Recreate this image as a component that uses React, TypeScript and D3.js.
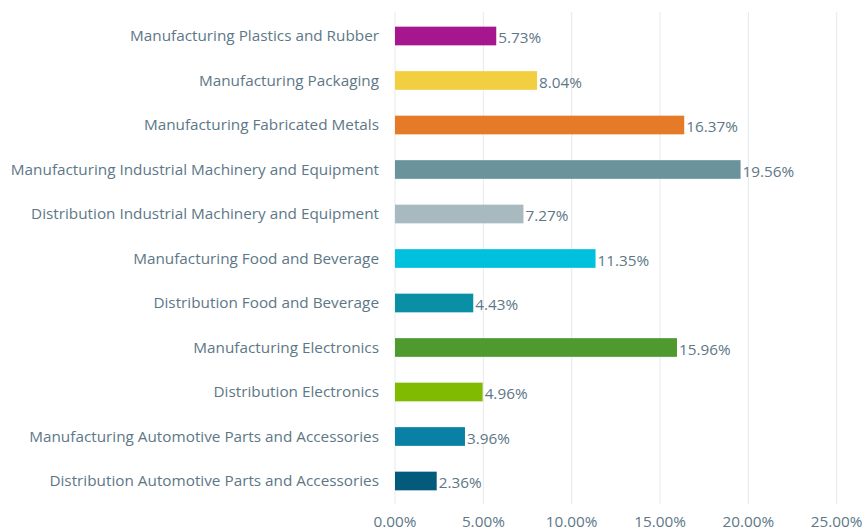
import React from "react";
import * as d3 from "d3";

const categories = [
  "Manufacturing Plastics and Rubber",
  "Manufacturing Packaging",
  "Manufacturing Fabricated Metals",
  "Manufacturing Industrial Machinery and Equipment",
  "Distribution Industrial Machinery and Equipment",
  "Manufacturing Food and Beverage",
  "Distribution Food and Beverage",
  "Manufacturing Electronics",
  "Distribution Electronics",
  "Manufacturing Automotive Parts and Accessories",
  "Distribution Automotive Parts and Accessories",
];
const values = [5.73, 8.04, 16.37, 19.56, 7.27, 11.35, 4.43, 15.96, 4.96, 3.96, 2.36];
const colors = [
  "#a5168f", "#f1cf40", "#e57a29", "#6b939b", "#a8b9bf", "#00c1dd",
  "#0a8fa4", "#4f9a2f", "#80ba01", "#0a80a4", "#045a7a",
];
const ticks = [0, 5, 10, 15, 20, 25];

const W = 863, H = 531;
const x0 = 395, x1 = 836.7;
const yTop = 13.75, yBot = 503.25;

export default function App() {
  const x = d3.scaleLinear().domain([0, 25]).range([x0, x1]);
  const y = d3.scaleBand().domain(categories).range([yTop, yBot]).paddingInner(0.58).paddingOuter(0.29);
  const textColor = "#5d7787";
  const font = "'Open Sans', sans-serif";
  const fs = 15.3;
  return (
    <svg width={W} height={H} style={{ position: "absolute", left: 0, top: 0, background: "#fff" }}>
      {ticks.map((t) => (
        <g key={t}>
          <line x1={x(t)} x2={x(t)} y1={12} y2={504} stroke="#e6e9ec" strokeWidth={1} />
          <text x={x(t)} y={527} textAnchor="middle" fill={textColor} fontFamily={font} fontSize={fs}>
            {d3.format(".2f")(t) + "%"}
          </text>
        </g>
      ))}
      {categories.map((c, i) => {
        const yy = y(c)!;
        const bw = y.bandwidth();
        return (
          <g key={c}>
            <rect x={x(0)} y={yy} width={x(values[i]) - x(0)} height={bw} fill={colors[i]} />
            <text x={379} y={yy + bw / 2} dy="0.35em" textAnchor="end" fill={textColor} fontFamily={font} fontSize={fs}>
              {c}
            </text>
            <text x={x(values[i]) + 2} y={yy + bw / 2 + 2} dy="0.35em" fill={textColor} fontFamily={font} fontSize={fs}>
              {values[i].toFixed(2) + "%"}
            </text>
          </g>
        );
      })}
    </svg>
  );
}
